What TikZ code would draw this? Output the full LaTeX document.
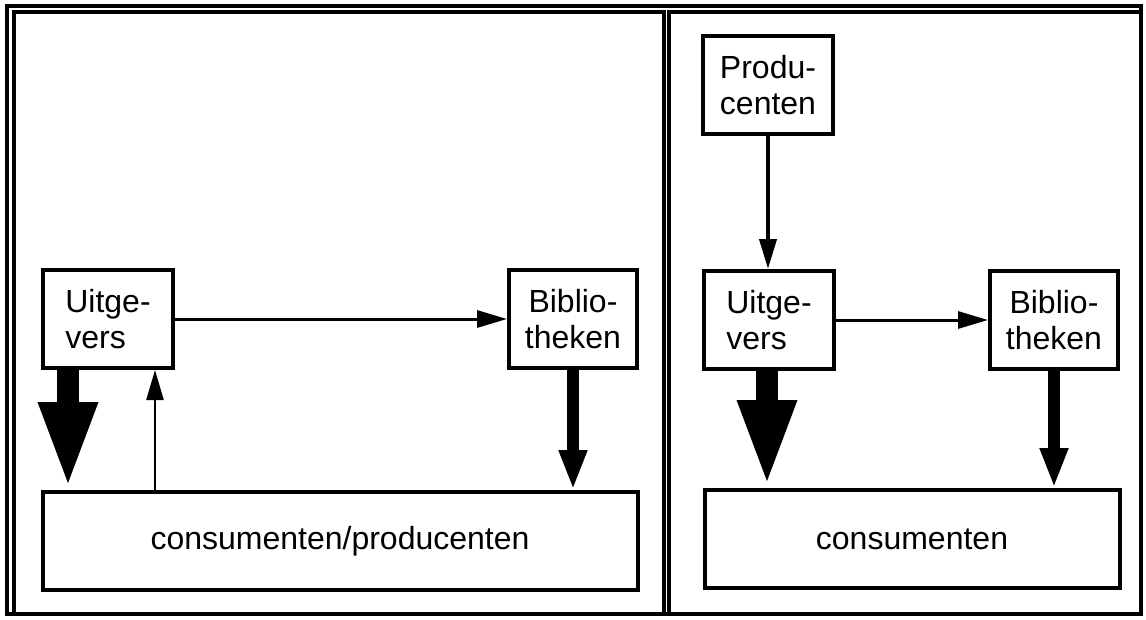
\documentclass[tikz,border=0pt]{standalone}
\usepackage{fontspec}
\setmainfont{Liberation Sans}
\usetikzlibrary{positioning,arrows.meta,calc}

\begin{document}
\begin{tikzpicture}[
  x=1pt, y=-1pt,
  frame/.style={line width=3.5pt},
  box/.style={draw, line width=4pt, minimum width=130pt, minimum height=98pt,
    inner sep=0pt, align=center, font=\fontsize{32}{36}\selectfont},
  thin/.style={-{Triangle[length=30pt, width=17pt]}, line width=3pt},
  mid/.style={-{Triangle[length=40pt, width=26pt]}, line width=12pt},
  fat/.style={-{Triangle[length=88pt, width=53pt]}, line width=22pt}
]
  \useasboundingbox (0,0) rectangle (1146,619);

  % --- frames --------------------------------------------------------------
  \draw[frame, line width=4.5pt] (7,6) rectangle (1141,614);
  \draw[frame] (14,12) rectangle (664,614);
  \draw[frame] (669,12) rectangle (1141,614);

  % --- left panel ------------------------------------------------------------
  \node[box, align=left] (lUit) at (108,319) {Uitge-\\vers};
  \node[box, minimum width=128pt] (lBib) at (573,319) {Biblio-\\theken};
  \node[box, minimum width=595pt] (lCon) at (340,541) {consumenten/producenten};

  \draw[thin] (lUit.east) -- (lBib.west);
  \draw[fat] ([xshift=-40pt]lUit.south) -- ([xshift=-40pt]lUit.south |- lCon.north);
  \draw[thin, line width=2.5pt] ([xshift=47pt]lUit.south |- lCon.north) -- ([xshift=47pt]lUit.south);
  \draw[mid] (lBib.south) -- (lBib.south |- lCon.north);

  % --- right panel -----------------------------------------------------------
  \node[box] (rProd) at (768,85) {Produ-\\centen};
  \node[box, align=left] (rUit) at (769,320) {Uitge-\\vers};
  \node[box, minimum width=128pt] (rBib) at (1054,320) {Biblio-\\theken};
  \node[box, minimum width=415pt] (rCon) at (912,539) {consumenten};

  \draw[thin, line width=4pt] (rProd.south) -- (rProd.south |- rUit.north);
  \draw[thin] (rUit.east) -- (rBib.west);
  \draw[fat] ([xshift=-2pt]rUit.south) -- ([xshift=-2pt]rUit.south |- rCon.north);
  \draw[mid] (rBib.south) -- (rBib.south |- rCon.north);
\end{tikzpicture}
\end{document}
